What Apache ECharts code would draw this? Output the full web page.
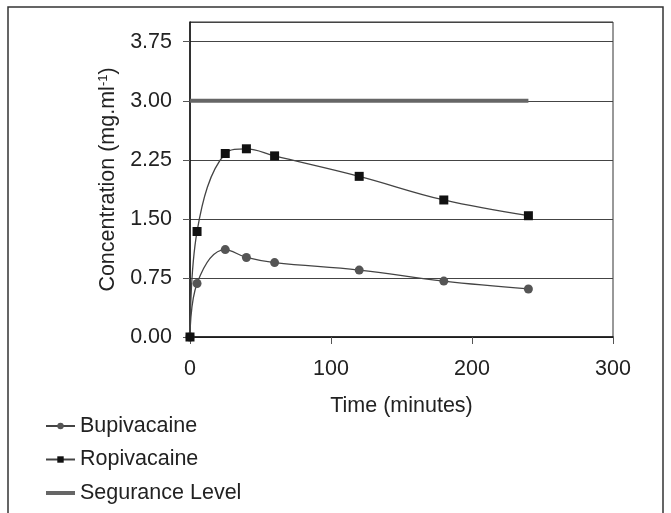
<!DOCTYPE html>
<html><head><meta charset="utf-8">
<script src="https://cdn.jsdelivr.net/npm/echarts@6/dist/echarts.min.js"></script>
<style>html,body{margin:0;padding:0;background:#fff}#c{width:671px;height:513px}</style>
</head><body><div id="c"></div>
<script>
var timeMin = [0, 5, 25, 40, 60, 120, 180, 240];
var bupivacaine = [0, 0.68, 1.11, 1.01, 0.945, 0.85, 0.71, 0.61];
var ropivacaine = [0, 1.34, 2.33, 2.39, 2.30, 2.04, 1.74, 1.54];
var seguranceTime = [0, 240];
var seguranceLevel = [3.0, 3.0];
var yTicks = [0, 0.75, 1.5, 2.25, 3.0, 3.75];

function pairs(xs, ys){ return xs.map(function(x,i){ return [x, ys[i]]; }); }
var FONT = 'Liberation Sans, Arial, sans-serif';
var FS = 21.5;
var chart = echarts.init(document.getElementById('c'));
chart.setOption({
  animation: false,
  backgroundColor: '#fff',
  graphic: [{type:'rect', shape:{x:8, y:7, width:655, height:520}, style:{fill:'none', stroke:'#333', lineWidth:1.5}, z:-1}],
  grid: {left:190, right:58, top:22, bottom:176, show:true, borderColor:'#333', borderWidth:1},
  xAxis: {type:'value', min:0, max:300, interval:100,
    name:'Time (minutes)', nameLocation:'middle', nameGap:58,
    nameTextStyle:{fontFamily:FONT, fontSize:FS, color:'#222'},
    axisLine:{lineStyle:{color:'#111', width:1.5}},
    axisTick:{length:7, lineStyle:{color:'#555'}},
    axisLabel:{fontFamily:FONT, fontSize:FS, color:'#222', margin:21},
    splitLine:{show:false}},
  yAxis: {type:'value', min:0, max:4, interval:0.75,
    name:'{a|Concentration (mg.ml}{s|-1}{a|)}', nameLocation:'middle', nameGap:70,
    nameTextStyle:{rich:{a:{fontFamily:FONT, fontSize:FS, color:'#222'}, s:{fontFamily:FONT, fontSize:13, color:'#222', padding:[0,0,10,0]}}},
    axisLine:{lineStyle:{color:'#111', width:1.5}},
    axisTick:{length:7, lineStyle:{color:'#555'}},
    axisLabel:{fontFamily:FONT, fontSize:FS, color:'#222', margin:18, showMaxLabel:false,
      formatter:function(v){ return v.toFixed(2); }},
    splitLine:{lineStyle:{color:'#444', width:1}}},
  legend: {orient:'vertical', left:39, top:410, itemGap:11.5, itemWidth:29, itemHeight:8,
    textStyle:{fontFamily:FONT, fontSize:FS, color:'#222'},
    data:['Bupivacaine','Ropivacaine',
      {name:'Segurance Level', itemStyle:{color:'rgba(0,0,0,0)', borderWidth:0}, lineStyle:{color:'#666', width:4}}]},
  series: [
    {name:'Bupivacaine', type:'line', smooth:0.4, data:pairs(timeMin, bupivacaine),
      symbol:'circle', symbolSize:9, itemStyle:{color:'#555'}, lineStyle:{color:'#444', width:1.3}},
    {name:'Ropivacaine', type:'line', smooth:0.4, data:pairs(timeMin, ropivacaine),
      symbol:'rect', symbolSize:9, itemStyle:{color:'#111'}, lineStyle:{color:'#444', width:1.3}},
    {name:'Segurance Level', type:'line', data:pairs(seguranceTime, seguranceLevel),
      symbol:'none', itemStyle:{color:'#666'}, lineStyle:{color:'#666', width:4}}
  ]
});
</script></body></html>
